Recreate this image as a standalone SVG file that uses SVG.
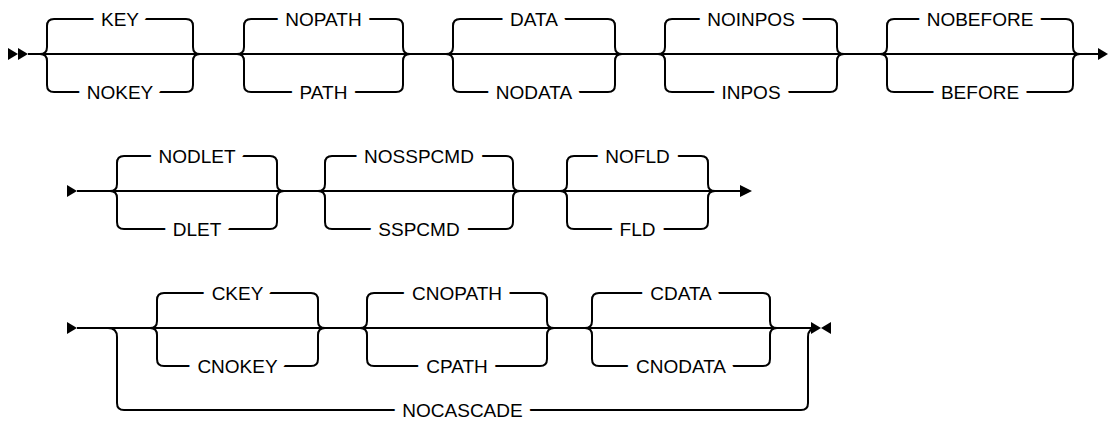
<svg xmlns="http://www.w3.org/2000/svg" width="1108" height="422" viewBox="0 0 1108 422">
<style>
.ln{fill:none;stroke:#000;stroke-width:2}
.ar{fill:#000;stroke:none}
.lbl{font-family:"Liberation Sans",Arial,sans-serif;font-size:19px;fill:#000;text-anchor:middle;stroke:#fff;stroke-width:18;stroke-linejoin:round;paint-order:stroke}
</style>
<rect width="1108" height="422" fill="#fff"/>
<g id="connectors">
<path class="ln" d="M28 54H1099"/>
<path class="ln" d="M40 54Q47 54 47 47V26Q47 19 54 19H186Q193 19 193 26V47Q193 54 200 54M40 54Q47 54 47 61V85Q47 92 54 92H186Q193 92 193 85V61Q193 54 200 54"/>
<path class="ln" d="M237 54Q244 54 244 47V26Q244 19 251 19H396Q403 19 403 26V47Q403 54 410 54M237 54Q244 54 244 61V85Q244 92 251 92H396Q403 92 403 85V61Q403 54 410 54"/>
<path class="ln" d="M446 54Q453 54 453 47V26Q453 19 460 19H608Q615 19 615 26V47Q615 54 622 54M446 54Q453 54 453 61V85Q453 92 460 92H608Q615 92 615 85V61Q615 54 622 54"/>
<path class="ln" d="M658 54Q665 54 665 47V26Q665 19 672 19H830Q837 19 837 26V47Q837 54 844 54M658 54Q665 54 665 61V85Q665 92 672 92H830Q837 92 837 85V61Q837 54 844 54"/>
<path class="ln" d="M880 54Q887 54 887 47V26Q887 19 894 19H1066Q1073 19 1073 26V47Q1073 54 1080 54M880 54Q887 54 887 61V85Q887 92 894 92H1066Q1073 92 1073 85V61Q1073 54 1080 54"/>
<path class="ln" d="M77 191H741"/>
<path class="ln" d="M110 191Q117 191 117 184V163Q117 156 124 156H270Q277 156 277 163V184Q277 191 284 191M110 191Q117 191 117 198V222Q117 229 124 229H270Q277 229 277 222V198Q277 191 284 191"/>
<path class="ln" d="M318 191Q325 191 325 184V163Q325 156 332 156H506Q513 156 513 163V184Q513 191 520 191M318 191Q325 191 325 198V222Q325 229 332 229H506Q513 229 513 222V198Q513 191 520 191"/>
<path class="ln" d="M560 191Q567 191 567 184V163Q567 156 574 156H701Q708 156 708 163V184Q708 191 715 191M560 191Q567 191 567 198V222Q567 229 574 229H701Q708 229 708 222V198Q708 191 715 191"/>
<path class="ln" d="M77 328H812"/>
<path class="ln" d="M150 328Q157 328 157 321V300Q157 293 164 293H311Q318 293 318 300V321Q318 328 325 328M150 328Q157 328 157 335V359Q157 366 164 366H311Q318 366 318 359V335Q318 328 325 328"/>
<path class="ln" d="M360 328Q367 328 367 321V300Q367 293 374 293H540Q547 293 547 300V321Q547 328 554 328M360 328Q367 328 367 335V359Q367 366 374 366H540Q547 366 547 359V335Q547 328 554 328"/>
<path class="ln" d="M585 328Q592 328 592 321V300Q592 293 599 293H763Q770 293 770 300V321Q770 328 777 328M585 328Q592 328 592 335V359Q592 366 599 366H763Q770 366 770 359V335Q770 328 777 328"/>
<path class="ln" d="M108 328Q117 328 117 337V403Q117 410 124 410H801Q808 410 808 403V337Q808 328 817 328"/>
<polygon class="ar" points="8,48 18,54 8,60"/>
<polygon class="ar" points="18,48 28,54 18,60"/>
<polygon class="ar" points="1098,48 1108,54 1098,60"/>
<polygon class="ar" points="67,185 77,191 67,197"/>
<polygon class="ar" points="740,185 752,191 740,197"/>
<polygon class="ar" points="67,322 77,328 67,334"/>
<polygon class="ar" points="811,322 821,328 811,334"/>
<polygon class="ar" points="831,322 821,328 831,334"/>
</g>
<g id="n-key"><text class="lbl" x="120" y="25.8">KEY</text><text class="lbl" x="120" y="98.8">NOKEY</text></g>
<g id="n-path"><text class="lbl" x="323.5" y="25.8">NOPATH</text><text class="lbl" x="323.5" y="98.8">PATH</text></g>
<g id="n-data"><text class="lbl" x="534" y="25.8">DATA</text><text class="lbl" x="534" y="98.8">NODATA</text></g>
<g id="n-inpos"><text class="lbl" x="751" y="25.8">NOINPOS</text><text class="lbl" x="751" y="98.8">INPOS</text></g>
<g id="n-before"><text class="lbl" x="980" y="25.8">NOBEFORE</text><text class="lbl" x="980" y="98.8">BEFORE</text></g>
<g id="n-dlet"><text class="lbl" x="197" y="162.8">NODLET</text><text class="lbl" x="197" y="235.8">DLET</text></g>
<g id="n-sspcmd"><text class="lbl" x="419" y="162.8">NOSSPCMD</text><text class="lbl" x="419" y="235.8">SSPCMD</text></g>
<g id="n-fld"><text class="lbl" x="637.5" y="162.8">NOFLD</text><text class="lbl" x="637.5" y="235.8">FLD</text></g>
<g id="n-ckey"><text class="lbl" x="237.5" y="299.8">CKEY</text><text class="lbl" x="237.5" y="372.8">CNOKEY</text></g>
<g id="n-cpath"><text class="lbl" x="457" y="299.8">CNOPATH</text><text class="lbl" x="457" y="372.8">CPATH</text></g>
<g id="n-cdata"><text class="lbl" x="681" y="299.8">CDATA</text><text class="lbl" x="681" y="372.8">CNODATA</text></g>
<g id="n-nocascade"><text class="lbl" x="462.5" y="416.8">NOCASCADE</text></g>
</svg>
